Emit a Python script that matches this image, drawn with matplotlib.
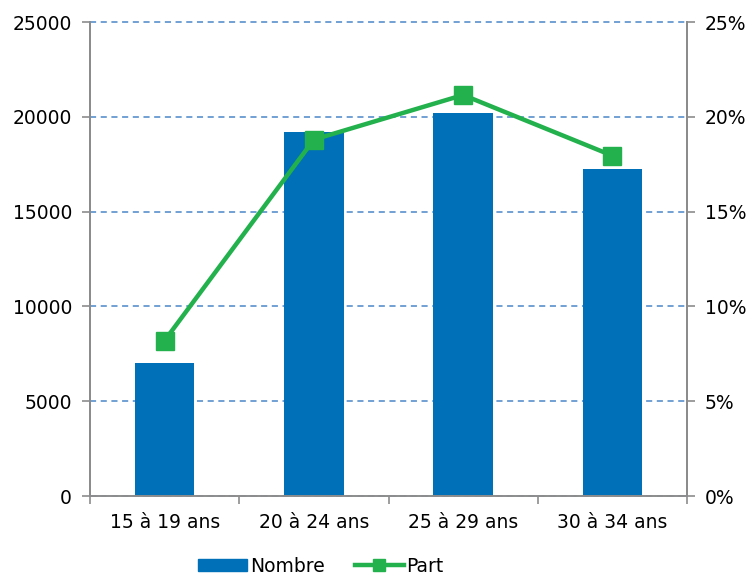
import matplotlib.pyplot as plt
import numpy as np
from matplotlib.ticker import FuncFormatter, FixedLocator
from matplotlib.lines import Line2D
from matplotlib.patches import Patch

# Données par tranche d'âge
categories = ["15 à 19 ans", "20 à 24 ans", "25 à 29 ans", "30 à 34 ans"]
nombre = [7000, 19200, 20200, 17250]
part = [8.2, 18.8, 21.15, 17.95]

bleu = "#0070B8"
vert = "#22B14C"
gris = "#8C8C8C"

plt.rcParams["font.family"] = ["DejaVu Sans"]
plt.rcParams["font.size"] = 13.5

fig = plt.figure(figsize=(7.51, 5.74), dpi=100)
ax = fig.add_axes([90 / 751, 1 - 496 / 574, (687 - 90) / 751, (496 - 22) / 574])
ax2 = ax.twinx()

x = np.arange(len(categories))
ax.bar(x, nombre, width=0.4, color=bleu, zorder=2)
ax.set_xlim(-0.5, len(categories) - 0.5)
ax.set_ylim(0, 25000)
ax.set_yticks(range(0, 25001, 5000))
ax.grid(axis="y", linestyle=(0, (4, 3)), color="#4A86C8", linewidth=1.1, zorder=0)
for gl in ax.get_ygridlines():
    gl.set_clip_on(False)
ax.set_axisbelow(True)

ax.set_xticks(x)
ax.set_xticklabels(categories)
ax.xaxis.set_minor_locator(FixedLocator(np.arange(-0.5, len(categories), 1)))
ax.tick_params(axis="x", which="major", length=0, pad=12)
ax.tick_params(axis="x", which="minor", length=6, color=gris, width=1.2)
ax.tick_params(axis="y", length=6, color=gris, width=1.2, pad=7)

ax2.plot(x, part, color=vert, linewidth=3.2, marker="s", markersize=13, zorder=3)
ax2.set_ylim(0, 25)
ax2.set_yticks(range(0, 26, 5))
ax2.yaxis.set_major_formatter(FuncFormatter(lambda v, p: f"{v:.0f}%"))
ax2.tick_params(axis="y", length=6, color=gris, width=1.2, pad=7)

for a in (ax, ax2):
    a.spines["top"].set_visible(False)
    for s in ("left", "right", "bottom"):
        a.spines[s].set_color(gris)
        a.spines[s].set_linewidth(1.4)
ax2.spines["bottom"].set_visible(False)

handles = [
    Patch(color=bleu, label="Nombre"),
    Line2D([], [], color=vert, linewidth=3.2, marker="s", markersize=8, label="Part"),
]
fig.legend(handles=handles, loc="center", bbox_to_anchor=(321 / 751, 1 - 566 / 574),
           ncol=2, frameon=False, handlelength=2.6, handleheight=0.6,
           handletextpad=0.15, columnspacing=1.6, fontsize=13.5)

fig.savefig("out.png", dpi=100)
